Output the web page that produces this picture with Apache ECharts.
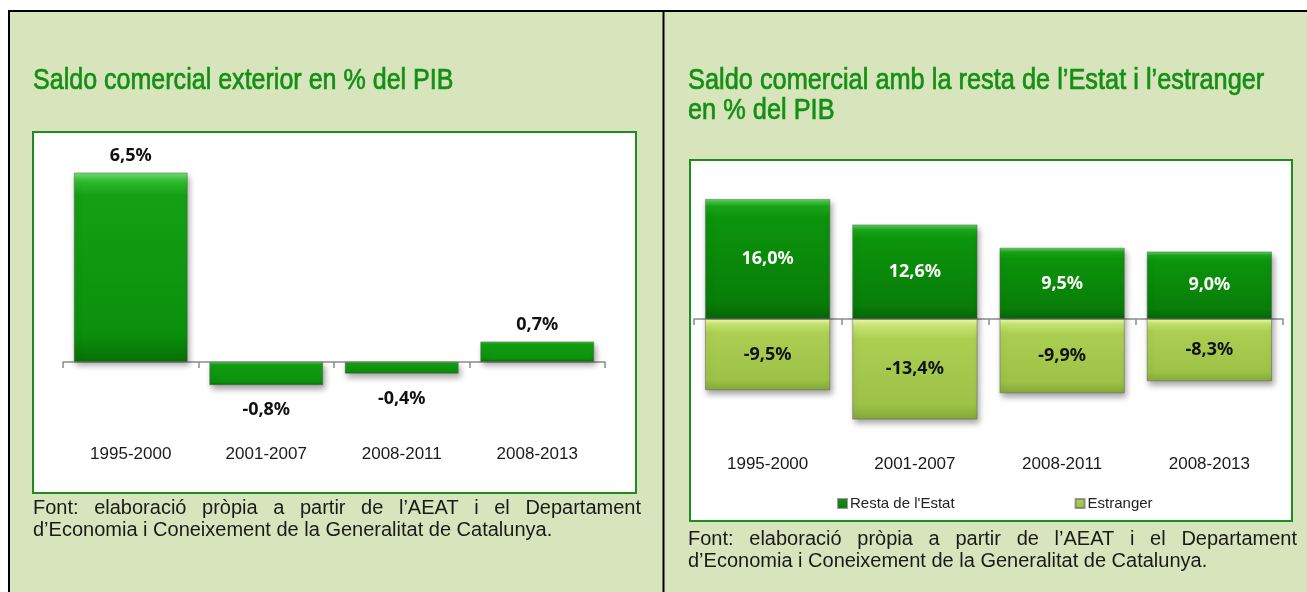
<!DOCTYPE html>
<html>
<head>
<meta charset="utf-8">
<script src="https://cdn.jsdelivr.net/npm/echarts@6/dist/echarts.min.js"></script>
<style>
  html, body { margin: 0; padding: 0; background: #fff; }
  #chart { width: 1307px; height: 592px; }
</style>
</head>
<body>
<div id="chart"></div>
<script>
// ---- Data ----
const categories = ['1995-2000', '2001-2007', '2008-2011', '2008-2013'];
const saldoExterior = [6.5, -0.8, -0.4, 0.7];
const restaEstat = [16.0, 12.6, 9.5, 9.0];
const estranger = [-9.5, -13.4, -9.9, -8.3];
const seriesNames = ["Resta de l'Estat", 'Estranger'];
const titleLeft = ['Saldo comercial exterior en % del PIB'];
const titleRight = ['Saldo comercial amb la resta de l’Estat i l’estranger', 'en % del PIB'];
const footerLines = ['Font: elaboració pròpia a partir de l’AEAT i el Departament',
                     'd’Economia i Coneixement de la Generalitat de Catalunya.'];

// ---- Helpers ----
const fmt = v => v.toFixed(1).replace('.', ',') + '%';
const FOOT_FONT = '20px "Liberation Sans"';
const TITLE_FONT = '30px "Liberation Sans"';
const measureCtx = document.createElement('canvas').getContext('2d');
function justifiedLine(text, x0, width, y) {
  measureCtx.font = FOOT_FONT;
  const words = text.split(' ');
  const widths = words.map(w => measureCtx.measureText(w).width);
  const total = widths.reduce((a, b) => a + b, 0);
  const gap = (width - total) / (words.length - 1);
  let x = x0;
  return words.map((w, i) => {
    const el = { type: 'text', x: x, y: y, z: 10,
      style: { text: w, font: FOOT_FONT, fill: '#1a1a1a', verticalAlign: 'middle', align: 'left' } };
    x += widths[i] + gap;
    return el;
  });
}
function plainLine(text, x, y, font, fill, sx, strokeW) {
  const style = { text: text, font: font, fill: fill, verticalAlign: 'middle', align: 'left' };
  if (strokeW) { style.stroke = fill; style.lineWidth = strokeW; }
  return { type: 'text', x: x, y: y, z: 10, scaleX: sx || 1, style: style };
}

const darkGreen = {
  type: 'linear', x: 0, y: 0, x2: 0, y2: 1,
  colorStops: [
    { offset: 0, color: '#6ee46e' }, { offset: 0.05, color: '#2cba2c' },
    { offset: 0.12, color: '#14a014' }, { offset: 0.85, color: '#0b900b' }, { offset: 1, color: '#067006' }
  ]
};
const darkGreenR = {
  type: 'linear', x: 0, y: 0, x2: 0, y2: 1,
  colorStops: [
    { offset: 0, color: '#5cd65c' }, { offset: 0.06, color: '#1aa61a' },
    { offset: 0.15, color: '#0c940c' }, { offset: 0.85, color: '#087e08' }, { offset: 1, color: '#056605' }
  ]
};
const lightGreen = {
  type: 'linear', x: 0, y: 0, x2: 0, y2: 1,
  colorStops: [
    { offset: 0, color: '#ecfaa8' }, { offset: 0.08, color: '#c4e46e' },
    { offset: 0.2, color: '#accf52' }, { offset: 0.85, color: '#9dc247' }, { offset: 1, color: '#84a836' }
  ]
};
const barShadow = { shadowColor: 'rgba(0,0,0,0.35)', shadowBlur: 6, shadowOffsetX: 2, shadowOffsetY: 4,
                    borderColor: 'rgba(90,90,90,0.6)', borderWidth: 0.8 };
const labelFont = { fontFamily: '"Noto Sans"', fontWeight: 'bold', fontSize: 18 };
const catLabel = { fontFamily: '"Liberation Sans"', fontSize: 17, color: '#1a1a1a' };
const axisGray = '#8c8c8c';

// ---- Graphic frame ----
const graphics = [
  { type: 'rect', z: -20, shape: { x: 8, y: 10, width: 1299, height: 582 }, style: { fill: '#d8e4bc' } },
  { type: 'line', z: -5, shape: { x1: 8, y1: 11, x2: 1307, y2: 11 }, style: { stroke: '#000', lineWidth: 2 } },
  { type: 'line', z: -5, shape: { x1: 9, y1: 10, x2: 9, y2: 592 }, style: { stroke: '#000', lineWidth: 2 } },
  { type: 'line', z: -5, shape: { x1: 663.5, y1: 10, x2: 663.5, y2: 592 }, style: { stroke: '#000', lineWidth: 2 } },
  { type: 'rect', z: -10, shape: { x: 33, y: 132, width: 603, height: 361 }, style: { fill: '#fff', stroke: '#1e8c1e', lineWidth: 2 } },
  { type: 'rect', z: -10, shape: { x: 690, y: 160, width: 602, height: 361 }, style: { fill: '#fff', stroke: '#1e8c1e', lineWidth: 2 } },
  plainLine(titleLeft[0], 33, 81, TITLE_FONT, '#139013', 0.835, 0.7),
  plainLine(titleRight[0], 688, 81, TITLE_FONT, '#139013', 0.845, 0.7),
  plainLine(titleRight[1], 688, 111, TITLE_FONT, '#139013', 0.845, 0.7),
  ...justifiedLine(footerLines[0], 33, 608, 508),
  plainLine(footerLines[1], 33, 530, FOOT_FONT, '#1a1a1a'),
  ...justifiedLine(footerLines[0], 688, 609, 539),
  plainLine(footerLines[1], 688, 561, FOOT_FONT, '#1a1a1a')
];

const chart = echarts.init(document.getElementById('chart'), null, { renderer: 'canvas' });
chart.setOption({
  backgroundColor: '#ffffff',
  animation: false,
  graphic: { elements: graphics },
  legend: {
    data: seriesNames, left: 832, top: 491, itemGap: 120, itemWidth: 9, itemHeight: 9,
    icon: 'rect', textStyle: { fontFamily: '"Liberation Sans"', fontSize: 15, color: '#222', padding: [0, 0, 0, -2] }
  },
  grid: [
    { left: 63, top: 158, width: 542, height: 233 },
    { left: 694, top: 169, width: 589, height: 270 }
  ],
  xAxis: [
    { gridIndex: 0, type: 'category', data: categories, position: 'bottom',
      axisLine: { onZero: true, lineStyle: { color: axisGray, width: 1.5 } },
      axisTick: { show: true, length: 6, lineStyle: { color: axisGray, width: 1.5 } },
      axisLabel: { show: false } },
    { gridIndex: 0, type: 'category', data: categories, position: 'bottom',
      axisLine: { show: false, onZero: false }, axisTick: { show: false },
      axisLabel: Object.assign({ margin: 55 }, catLabel) },
    { gridIndex: 1, type: 'category', data: categories, position: 'bottom',
      axisLine: { onZero: true, lineStyle: { color: axisGray, width: 1.5 } },
      axisTick: { show: true, length: 6, lineStyle: { color: axisGray, width: 1.5 } },
      axisLabel: { show: false } },
    { gridIndex: 1, type: 'category', data: categories, position: 'bottom',
      axisLine: { show: false, onZero: false }, axisTick: { show: false },
      axisLabel: Object.assign({ margin: 17 }, catLabel) }
  ],
  yAxis: [
    { gridIndex: 0, type: 'value', min: -1, max: 7, show: false },
    { gridIndex: 1, type: 'value', min: -16, max: 20, show: false }
  ],
  series: [
    { name: 'Saldo', type: 'bar', xAxisIndex: 0, yAxisIndex: 0, barCategoryGap: '16%',
      itemStyle: Object.assign({ color: darkGreen }, barShadow),
      data: saldoExterior.map(v => ({
        value: v,
        label: { show: true, position: v >= 0 ? 'top' : 'bottom', distance: v >= 0 ? 8 : 16,
                 formatter: p => fmt(p.value), color: '#111', ...labelFont }
      })) },
    { name: seriesNames[0], type: 'bar', xAxisIndex: 2, yAxisIndex: 1, stack: 'r', barCategoryGap: '15%',
      itemStyle: Object.assign({ color: darkGreenR }, barShadow),
      label: { show: true, position: 'inside', formatter: p => fmt(p.value), color: '#fff', ...labelFont },
      data: restaEstat },
    { name: seriesNames[1], type: 'bar', xAxisIndex: 2, yAxisIndex: 1, stack: 'r', barCategoryGap: '15%',
      itemStyle: Object.assign({ color: lightGreen }, barShadow),
      label: { show: true, position: 'inside', formatter: p => fmt(p.value), color: '#111', ...labelFont },
      data: estranger }
  ]
});
</script>
</body>
</html>
